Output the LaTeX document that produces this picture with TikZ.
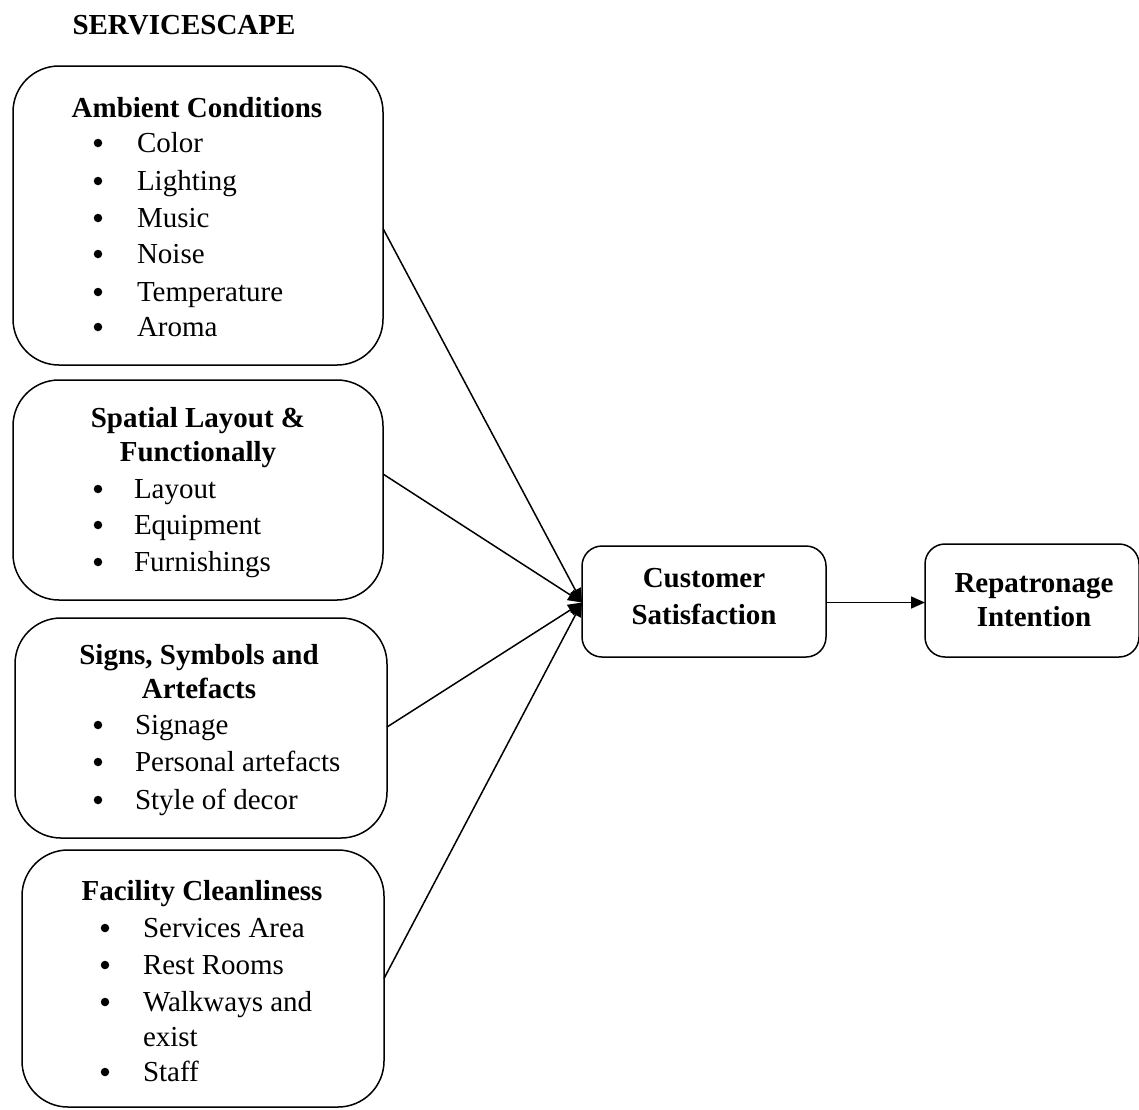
\documentclass[tikz,border=0pt]{standalone}
\usepackage{fontspec}
\setmainfont{Liberation Serif}
\usetikzlibrary{arrows.meta}
\begin{document}
\begin{tikzpicture}[x=1pt,y=-1pt,
  every node/.style={inner sep=0pt,outer sep=0pt},
  bigbox/.style={draw,line width=1.5pt,rounded corners=46pt,anchor=north west},
  smallbox/.style={draw,line width=1.5pt,rounded corners=20pt,anchor=north west},
  txt/.style={font=\fontsize{29}{36}\selectfont,anchor=base west},
  head/.style={font=\fontsize{29}{34}\selectfont\bfseries,anchor=base,align=center},
  bul/.style={circle,fill,minimum size=8.5pt},
  link/.style={line width=1.5pt,-{Triangle[length=14pt,width=12pt]}}]
\useasboundingbox (0,0) rectangle (1139,1109);

% title
\node[head] (title) at (184,34) {SERVICESCAPE};

% the four servicescape dimensions
\node[bigbox,minimum width=370pt,minimum height=299pt] (amb) at (13,66) {};
\node[bigbox,minimum width=370pt,minimum height=220pt] (spa) at (13,380) {};
\node[bigbox,minimum width=372pt,minimum height=220pt] (sig) at (15,618) {};
\node[bigbox,minimum width=362pt,minimum height=257pt] (fac) at (22,850) {};

% outcome boxes
\node[smallbox,minimum width=244pt,minimum height=111pt] (cs) at (582,546) {};
\node[smallbox,minimum width=214pt,minimum height=113pt] (rep) at (925,544) {};

% Ambient Conditions
\node[head] (ambh) at (197,117) {Ambient Conditions};
\foreach \t/\y [count=\i] in {Color/152,Lighting/190,Music/227,Noise/263,Temperature/301,Aroma/336}{
  \node[bul] (ambb\i) at (98,\y-9) {};
  \node[txt] (ambt\i) at (137,\y) {\t};
}

% Spatial Layout & Functionally
\node[head] (spah1) at (198,427) {Spatial Layout \&};
\node[head] (spah2) at (198,461) {Functionally};
\foreach \t/\y [count=\i] in {Layout/498,Equipment/534,Furnishings/571}{
  \node[bul] (spab\i) at (98,\y-9) {};
  \node[txt] (spat\i) at (134,\y) {\t};
}

% Signs, Symbols and Artefacts
\node[head] (sigh1) at (199,664) {Signs, Symbols and};
\node[head] (sigh2) at (199,698) {Artefacts};
\foreach \t/\y [count=\i] in {Signage/734,Personal artefacts/771,Style of decor/809}{
  \node[bul] (sigb\i) at (98,\y-9) {};
  \node[txt] (sigt\i) at (135,\y) {\t};
}

% Facility Cleanliness
\node[head] (fach) at (202,900) {Facility Cleanliness};
\foreach \y [count=\i] in {937,974,1011,1081}{
  \node[bul] (facb\i) at (105,\y-9) {};
}
\node[txt] (fact1) at (143,937) {Services Area};
\node[txt] (fact2) at (143,974) {Rest Rooms};
\node[txt] (fact3) at (143,1011) {Walkways and};
\node[txt] (fact4) at (143,1046) {exist};
\node[txt] (fact5) at (143,1081) {Staff};

% outcome labels
\node[head] (csh1) at (704,587) {Customer};
\node[head] (csh2) at (704,624) {Satisfaction};
\node[head] (reph1) at (1034,592) {Repatronage};
\node[head] (reph2) at (1034,626) {Intention};

% connectors
\coordinate (hub) at ([yshift=-1pt]cs.west);
\draw[link] ([yshift=-13pt]amb.east) -- (hub);
\draw[link] ([yshift=16pt]spa.east) -- (hub);
\draw[link] ([yshift=1pt]sig.east) -- (hub);
\draw[link] (fac.east) -- (hub);
\draw[link] (hub -| cs.east) -- (hub -| rep.west);
\end{tikzpicture}
\end{document}
